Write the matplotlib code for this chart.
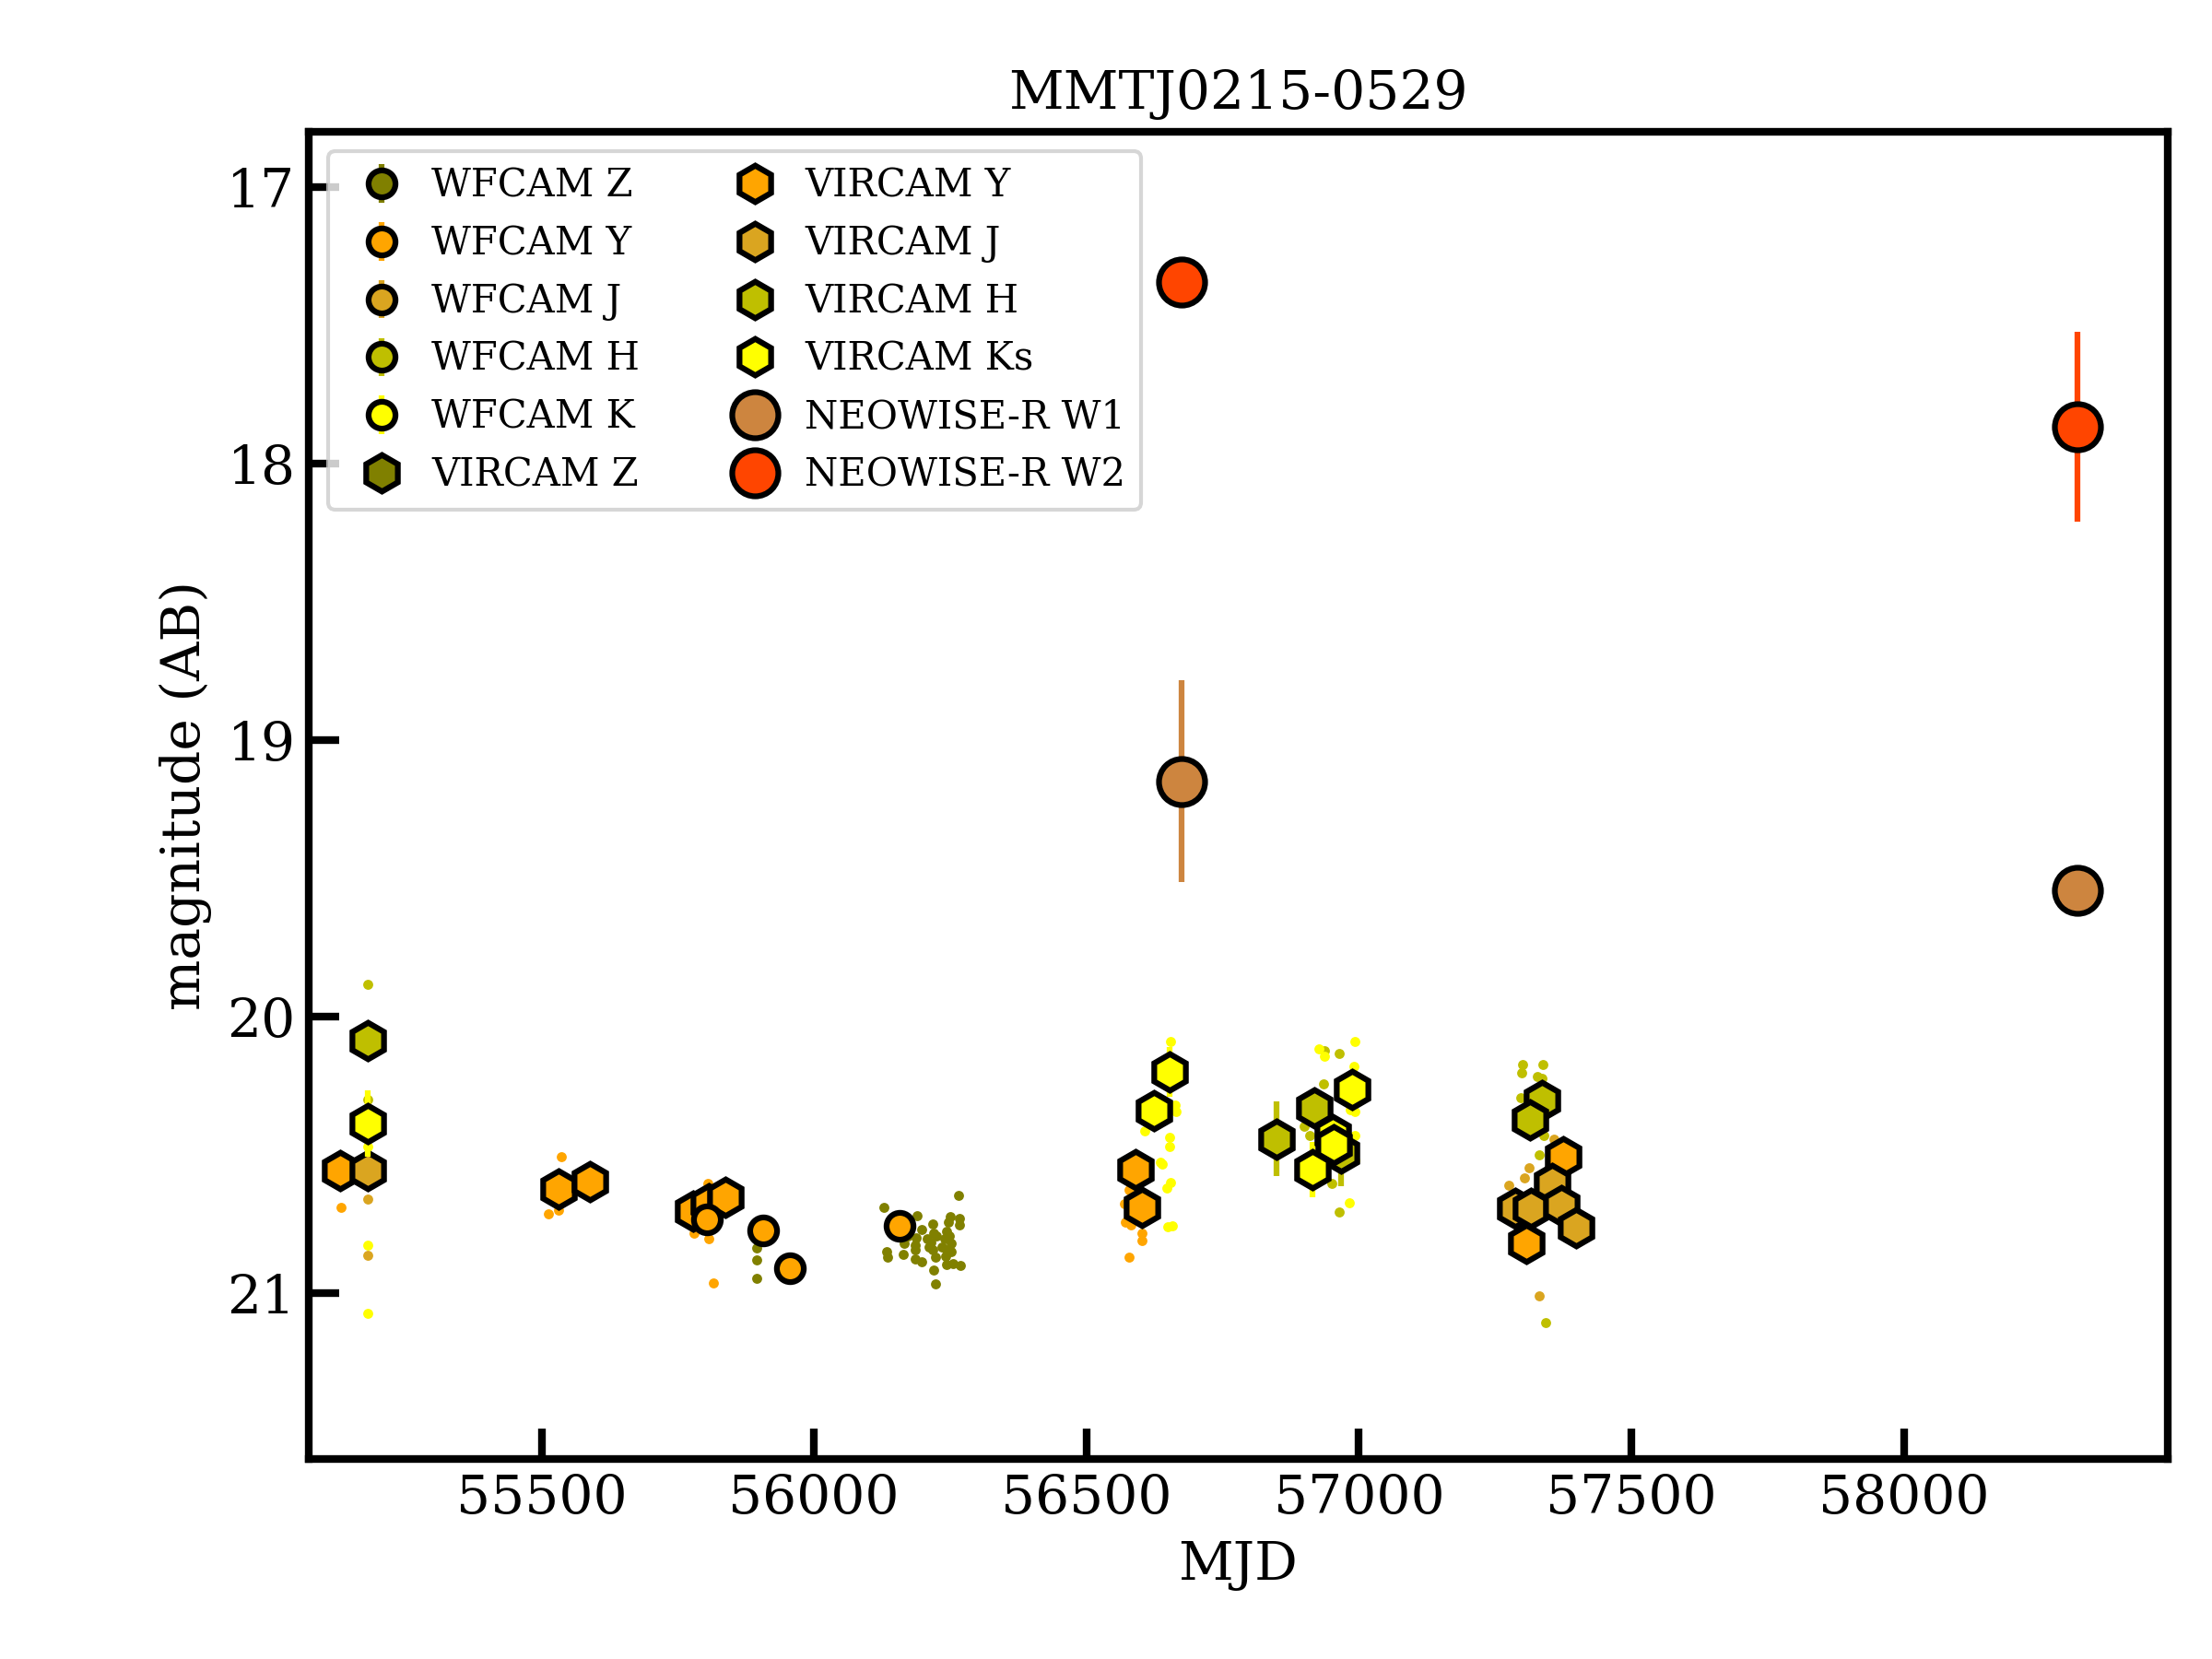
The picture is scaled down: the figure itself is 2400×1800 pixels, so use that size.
import numpy as np
import matplotlib.pyplot as plt

plt.rcParams['font.family'] = 'serif'
plt.rcParams['font.serif'] = ['DejaVu Serif']
plt.rcParams['font.size'] = 14

title = "MMTJ0215-0529"

# band colours
col_z = 'olive'
col_y = 'orange'
col_j = 'goldenrod'
col_h = 'y'
col_k = 'yellow'
col_w1 = 'peru'
col_w2 = 'orangered'

# individual epochs (small dots)
z_dot_mjd = [56128, 56266, 56189, 56197, 56218, 56220, 56214, 56218, 56185, 56185,
             56166, 56134, 56135, 56164, 56185, 56198, 56223, 56220, 56223, 56246,
             56250, 56267, 56267, 56243, 56249, 56252, 56243, 56252, 56242, 56244,
             56255, 56269, 56240, 56208, 56211, 56225, 56234, 56172, 56187,
             55895, 55895, 55895]
z_dot_mag = [20.691, 20.646, 20.719, 20.769, 20.749, 20.782, 20.816, 20.843, 20.827, 20.843,
             20.821, 20.849, 20.869, 20.860, 20.877, 20.888, 20.871, 20.916, 20.968, 20.743,
             20.724, 20.730, 20.754, 20.777, 20.793, 20.819, 20.843, 20.849, 20.866, 20.896,
             20.894, 20.899, 20.804, 20.804, 20.832, 20.793, 20.832, 20.793, 20.799,
             20.838, 20.880, 20.946]

y_dot_mjd = [55132, 55537, 55513, 55531, 55806, 55780, 55807, 55815,
             56578, 56569, 56572, 56581, 56602, 56602, 56578]
y_dot_mag = [20.691, 20.506, 20.713, 20.699, 20.604, 20.784, 20.802, 20.964,
             20.626, 20.676, 20.743, 20.754, 20.782, 20.810, 20.871]

j_dot_mjd = [55181, 55181, 57358, 57312, 57304, 57274, 57331]
j_dot_mag = [20.660, 20.864, 20.442, 20.548, 20.582, 20.609, 21.010]

h_dot_mjd = [55181, 55181, 56964, 56935, 56899, 56909, 56950, 56964, 56937,
             57300, 57299, 57338, 57327, 57336, 57297, 57339, 57331, 57342]
h_dot_mag = [19.885, 20.300, 20.133, 20.242, 20.398, 20.431, 20.604, 20.707, 20.125,
             20.173, 20.203, 20.173, 20.216, 20.222, 20.292, 20.431, 20.501, 21.108]

k_dot_mjd = [55181, 55181, 55181,
             56655, 56663, 56664, 56606, 56652, 56653, 56635, 56639, 56655, 56647, 56649, 56658,
             56927, 56937, 56992, 56990, 56993, 56984, 56992, 56993, 56982]
k_dot_mag = [20.470, 20.827, 21.072,
             20.091, 20.320, 20.342, 20.414, 20.437, 20.470, 20.526, 20.535, 20.600, 20.620, 20.760, 20.758,
             20.116, 20.142, 20.091, 20.180, 20.342, 20.336, 20.431, 20.520, 20.674]

# WFCAM averages
wf_z_mjd, wf_z_mag, wf_z_err = [], [], []
wf_y_mjd = [55804, 55906, 55955, 56157]
wf_y_mag = [20.732, 20.773, 20.910, 20.757]
wf_y_err = [0.03, 0.03, 0.03, 0.03]
wf_j_mjd, wf_j_mag, wf_j_err = [], [], []
wf_h_mjd, wf_h_mag, wf_h_err = [], [], []
wf_k_mjd, wf_k_mag, wf_k_err = [], [], []

# VIRCAM averages
vi_z_mjd, vi_z_mag, vi_z_err = [], [], []
vi_y_mjd = [55130, 55531, 55588, 55778, 55807, 55837, 56590, 56602, 57375, 57307]
vi_y_mag = [20.557, 20.623, 20.596, 20.704, 20.676, 20.652, 20.554, 20.691, 20.506, 20.819]
vi_y_err = [0.04, 0.04, 0.04, 0.04, 0.04, 0.04, 0.05, 0.05, 0.05, 0.05]
vi_j_mjd = [55181, 57354, 57287, 57316, 57371, 57399]
vi_j_mag = [20.557, 20.604, 20.693, 20.693, 20.682, 20.765]
vi_j_err = [0.04, 0.05, 0.05, 0.05, 0.05, 0.05]
vi_h_mjd = [55181, 56848, 56918, 56967, 57336, 57313]
vi_h_mag = [20.086, 20.442, 20.331, 20.492, 20.305, 20.373]
vi_h_err = [0.05, 0.134, 0.05, 0.12, 0.05, 0.05]
vi_k_mjd = [55181, 56652, 56624, 56987, 56951, 56954, 56914]
vi_k_mag = [20.387, 20.200, 20.339, 20.262, 20.426, 20.465, 20.554]
vi_k_err = [0.12, 0.09, 0.06, 0.05, 0.05, 0.05, 0.10]

# NEOWISE-R
w1_mjd = [56674, 58319]
w1_mag = [19.15, 19.545]
w1_err = [0.365, 0.03]
w2_mjd = [56674, 58319]
w2_mag = [17.345, 17.867]
w2_err = [0.03, 0.343]

fig = plt.figure(figsize=(8, 6), dpi=300)
ax = fig.add_axes([0.1396, 0.1206, 0.8404, 0.8])

# small dots first
for mjd, mag, c in [(z_dot_mjd, z_dot_mag, col_z), (y_dot_mjd, y_dot_mag, col_y),
                    (j_dot_mjd, j_dot_mag, col_j), (h_dot_mjd, h_dot_mag, col_h),
                    (k_dot_mjd, k_dot_mag, col_k)]:
    ax.plot(mjd, mag, 'o', color=c, ms=2.6, mew=0, zorder=1.5)

handles = []
wfcam = [(wf_z_mjd, wf_z_mag, wf_z_err, col_z, 'WFCAM Z'),
         (wf_y_mjd, wf_y_mag, wf_y_err, col_y, 'WFCAM Y'),
         (wf_j_mjd, wf_j_mag, wf_j_err, col_j, 'WFCAM J'),
         (wf_h_mjd, wf_h_mag, wf_h_err, col_h, 'WFCAM H'),
         (wf_k_mjd, wf_k_mag, wf_k_err, col_k, 'WFCAM K')]
for mjd, mag, err, c, lab in wfcam:
    h = ax.errorbar(mjd, mag, yerr=err, fmt='o', color=c, ecolor=c, elinewidth=1.5,
                    ms=7, mfc=c, mec='k', mew=1.5, label=lab, zorder=2)
    handles.append(h)

vircam = [(vi_z_mjd, vi_z_mag, vi_z_err, col_z, 'VIRCAM Z'),
          (vi_y_mjd, vi_y_mag, vi_y_err, col_y, 'VIRCAM Y'),
          (vi_j_mjd, vi_j_mag, vi_j_err, col_j, 'VIRCAM J'),
          (vi_h_mjd, vi_h_mag, vi_h_err, col_h, 'VIRCAM H'),
          (vi_k_mjd, vi_k_mag, vi_k_err, col_k, 'VIRCAM Ks')]
for mjd, mag, err, c, lab in vircam:
    if len(mjd):
        ax.errorbar(mjd, mag, yerr=err, fmt='none', ecolor=c, elinewidth=1.5, zorder=2)
    h, = ax.plot(mjd, mag, 'h', color=c, ms=9.5, mec='k', mew=1.5, label=lab, zorder=2)
    handles.append(h)

neowise = [(w1_mjd, w1_mag, w1_err, col_w1, 'NEOWISE-R W1'),
           (w2_mjd, w2_mag, w2_err, col_w2, 'NEOWISE-R W2')]
for mjd, mag, err, c, lab in neowise:
    ax.errorbar(mjd, mag, yerr=err, fmt='none', ecolor=c, elinewidth=1.5, zorder=2)
    h, = ax.plot(mjd, mag, 'o', color=c, ms=12, mec='k', mew=1.5, label=lab, zorder=2)
    handles.append(h)

ax.set_xlim(55073, 58484)
ax.set_ylim(21.6, 16.8)
ax.set_xticks(np.arange(55500, 58001, 500))
ax.set_yticks([17, 18, 19, 20, 21])
ax.tick_params(direction='in', length=8, width=2)
for s in ax.spines.values():
    s.set_linewidth(2)

ax.set_xlabel('MJD')
ax.set_ylabel('magnitude (AB)')
ax.set_title(title, fontsize=14)
ax.legend(handles=handles, loc='upper left', ncol=2, fontsize=10, numpoints=1,
          handletextpad=0.3)

fig.savefig('out.png', dpi=300)
